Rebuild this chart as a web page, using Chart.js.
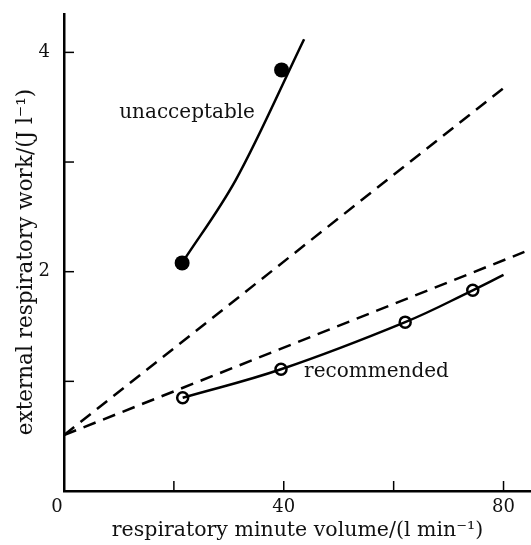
<!DOCTYPE html>
<html>
<head>
<meta charset="utf-8">
<script src="https://cdn.jsdelivr.net/npm/chart.js@4/dist/chart.umd.min.js"></script>
<style>
  html, body { margin: 0; padding: 0; background: #fff; overflow: hidden; }
  #wrap { width: 531px; height: 545px; }
  canvas { display: block; }
</style>
</head>
<body>
<div id="wrap"><canvas id="chart"></canvas></div>
<script>
// measured points
const unacceptableX = [21.5, 39.6];
const unacceptableY = [2.08, 3.84];
const recommendedX = [21.6, 39.5, 62.1, 74.4];
const recommendedY = [0.85, 1.11, 1.54, 1.83];

// fitted curves
const unacceptableCurveX = [21.5, 31.3, 43.7];
const unacceptableCurveY = [2.08, 2.84, 4.12];
const recommendedCurveX = [21.6, 39.5, 62.1, 74.4, 80.0];
const recommendedCurveY = [0.85, 1.11, 1.54, 1.83, 1.97];

// dashed reference lines
const steepLineX = [0, 80.9];
const steepLineY = [0.51, 3.71];
const shallowLineX = [0, 83.8];
const shallowLineY = [0.51, 2.18];

const xTicks = [0, 20, 40, 60, 80];
const xTickLabels = ["0", "", "40", "", "80"];
const yTicks = [0, 1, 2, 3, 4];
const yTickLabels = ["", "", "2", "", "4"];

const curveLabels = [
  { text: "unacceptable", x: 22.4, y: 3.45, align: "center" },
  { text: "recommended", x: 43.7, y: 1.09, align: "left" },
];

const FONT = "'DejaVu Serif', serif";

function toPoints(xs, ys) {
  return xs.map((x, i) => ({ x, y: ys[i] }));
}

const extras = {
  id: "extras",
  // let the x axis run to the right edge of the canvas
  afterLayout(chart) {
    const xs = chart.scales.x;
    const extra = chart.width - xs.right;
    if (extra > 0) {
      xs.right += extra;
      xs.width += extra;
      chart.chartArea.right += extra;
      chart.chartArea.width += extra;
      xs.configure();
    }
  },
  // inward tick marks, x tick labels, y title, text labels
  afterDraw(chart) {
    const { ctx, scales } = chart;
    const xs = scales.x;
    const ys = scales.y;
    const area = chart.chartArea;

    ctx.save();
    ctx.strokeStyle = "#000";
    ctx.lineWidth = 1.5;
    xTicks.forEach((v) => {
      const px = xs.getPixelForValue(v);
      ctx.beginPath();
      ctx.moveTo(px, area.bottom);
      ctx.lineTo(px, area.bottom - 10);
      ctx.stroke();
    });
    yTicks.forEach((v) => {
      const py = ys.getPixelForValue(v);
      ctx.beginPath();
      ctx.moveTo(area.left, py);
      ctx.lineTo(area.left + 10, py);
      ctx.stroke();
    });

    ctx.fillStyle = "#111";
    ctx.font = "18px " + FONT;
    ctx.textAlign = "center";
    ctx.textBaseline = "top";
    xTicks.forEach((v, i) => {
      // the corner "0" sits a little left of the axis
      const shift = v === 0 ? -7 : 0;
      ctx.fillText(xTickLabels[i], xs.getPixelForValue(v) + shift, area.bottom + 7);
    });

    ctx.save();
    ctx.translate(26, 262);
    ctx.rotate(-Math.PI / 2);
    ctx.font = "21.5px " + FONT;
    ctx.textBaseline = "middle";
    ctx.fillText("external respiratory work/(J l⁻¹)", 0, 0);
    ctx.restore();

    ctx.font = "20px " + FONT;
    ctx.textBaseline = "middle";
    curveLabels.forEach((l) => {
      ctx.textAlign = l.align;
      ctx.fillText(l.text, xs.getPixelForValue(l.x), ys.getPixelForValue(l.y));
    });
    ctx.restore();
  },
};

const lineStyle = {
  showLine: true,
  pointRadius: 0,
  borderColor: "#000",
  borderWidth: 2.5,
  fill: false,
};

new Chart(document.getElementById("chart"), {
  type: "scatter",
  data: {
    datasets: [
      {
        ...lineStyle,
        data: toPoints(steepLineX, steepLineY),
        borderDash: [13, 8],
        tension: 0,
      },
      {
        ...lineStyle,
        data: toPoints(shallowLineX, shallowLineY),
        borderDash: [13, 8],
        tension: 0,
      },
      {
        ...lineStyle,
        data: toPoints(unacceptableCurveX, unacceptableCurveY),
        cubicInterpolationMode: "monotone",
      },
      {
        ...lineStyle,
        data: toPoints(recommendedCurveX, recommendedCurveY),
        tension: 0.4,
      },
      {
        data: toPoints(unacceptableX, unacceptableY),
        pointRadius: 7.5,
        pointBackgroundColor: "#000",
        pointBorderColor: "#000",
        pointBorderWidth: 0,
        showLine: false,
      },
      {
        data: toPoints(recommendedX, recommendedY),
        pointRadius: 5.5,
        pointBackgroundColor: "#fff",
        pointBorderColor: "#000",
        pointBorderWidth: 2.5,
        showLine: false,
      },
    ],
  },
  options: {
    responsive: true,
    maintainAspectRatio: false,
    animation: false,
    layout: { padding: { top: 14, right: 0, left: 0, bottom: 0 } },
    plugins: {
      legend: { display: false },
      tooltip: { enabled: false },
    },
    scales: {
      x: {
        type: "linear",
        min: 0,
        max: 85,
        afterFit: (s) => {
          s.height = 54;
          s.paddingLeft = 0;
          s.paddingRight = 0;
        },
        afterBuildTicks: (s) => { s.ticks = xTicks.map((v) => ({ value: v })); },
        grid: { display: true, drawOnChartArea: false, drawTicks: false },
        border: { display: true, color: "#000", width: 2.5 },
        ticks: { display: false },
        title: {
          display: true,
          text: "respiratory minute volume/(l min⁻¹)",
          color: "#111",
          font: { family: FONT, size: 20.5 },
          padding: { top: 0, bottom: 2 },
        },
      },
      y: {
        type: "linear",
        min: 0,
        max: 4.35,
        afterFit: (s) => {
          s.width = 64;
          s.paddingTop = 0;
          s.paddingBottom = 0;
        },
        afterBuildTicks: (s) => { s.ticks = yTicks.map((v) => ({ value: v })); },
        grid: { display: true, drawOnChartArea: false, drawTicks: false },
        border: { display: true, color: "#000", width: 2.5 },
        ticks: {
          padding: 14,
          color: "#111",
          font: { family: FONT, size: 18 },
          callback: (v) => yTickLabels[yTicks.indexOf(v)] ?? "",
        },
        title: { display: false },
      },
    },
  },
  plugins: [extras],
});
</script>
</body>
</html>
